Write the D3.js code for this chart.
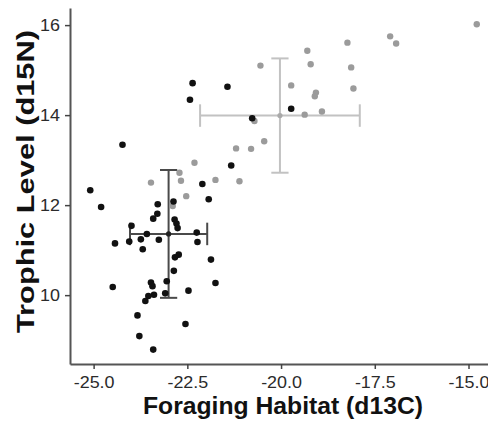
<!DOCTYPE html>
<meta charset="utf-8">
<style>
    body {
        margin: 0;
        background: #fff;
    }

    .tick text {
        font-family: "Liberation Sans", Arial, sans-serif;
        font-size: 16px;
        fill: #2b2b2b;
    }

    .title {
        font-family: "Liberation Sans", Arial, sans-serif;
        font-weight: 700;
        font-size: 24px;
        fill: #111;
    }
</style>
<svg id="f" width="488" height="421"></svg>
<script src="https://cdn.jsdelivr.net/npm/d3@7"></script>
<script>
    // group 1 (black) stable isotope values
    var blackX = [-22.36, -21.43, -22.43, -24.23, -20.77, -19.73, -21.33, -22.10, -25.09, -21.93,
        -24.80, -22.87, -23.29, -23.30, -23.41, -22.84, -22.79, -22.76, -23.99, -23.58,
        -22.25, -23.74, -24.05, -23.26, -24.43, -22.23, -23.69, -22.73, -22.83, -21.87,
        -22.86, -24.49, -23.47, -23.43, -23.05, -21.75, -22.47, -23.39, -23.54, -23.62,
        -23.09, -23.83, -22.55, -23.78, -23.41];
    var blackY = [14.71, 14.63, 14.34, 13.34, 13.93, 14.14, 12.88, 12.47, 12.33, 12.13,
        11.96, 12.08, 12.02, 11.81, 11.70, 11.68, 11.59, 11.49, 11.54, 11.36,
        11.39, 11.24, 11.19, 11.23, 11.15, 11.18, 11.02, 10.90, 10.84, 10.79,
        10.54, 10.18, 10.28, 10.20, 10.31, 10.27, 10.10, 10.01, 9.98, 9.87,
        10.04, 9.55, 9.36, 9.09, 8.79];

    // group 2 (grey)
    var greyX = [-14.78, -17.09, -16.93, -18.23, -19.30, -19.21, -18.13, -20.55, -19.73, -19.07,
        -19.10, -18.07, -19.37, -18.91, -20.71, -20.45, -21.20, -20.80, -22.31, -22.71,
        -22.67, -23.47, -21.75, -21.11, -22.53, -22.89];
    var greyY = [16.02, 15.75, 15.59, 15.61, 15.43, 15.13, 15.06, 15.10, 14.66, 14.50,
        14.42, 14.59, 14.01, 14.08, 13.87, 13.42, 13.26, 13.25, 12.94, 12.72,
        12.54, 12.50, 12.56, 12.53, 12.20, 11.98];

    // group means and spread
    var groups = ["grey", "black"];
    var meanX = [-20.03, -23.0];
    var meanY = [13.99, 11.36];
    var sdX = [2.13, 1.03];
    var sdY = [1.27, 1.42];

    var xTicks = [-25, -22.5, -20, -17.5, -15];
    var yTicks = [10, 12, 14, 16];

    var svg = d3.select("#f");

    var x = d3.scaleLinear().domain([-25.63, -14.16]).range([70, 500]),
        y = d3.scaleLinear().domain([8.47, 16.38]).range([364, 8]);

    var ptColor = { black: "#111", grey: "#9b9b9b" },
        barColor = { black: "#4a4a4a", grey: "#c2c2c2" };

    var capW = 0.23, capH = 0.25; // half cap size in data units

    // axes
    var xAxis = svg.append("g")
        .attr("transform", "translate(0,364)")
        .call(d3.axisBottom(x).tickValues(xTicks).tickSize(5).tickSizeOuter(0));
    xAxis.select(".domain").attr("stroke", "#555").attr("stroke-width", 2);
    xAxis.selectAll(".tick line").attr("stroke", "#444").attr("stroke-width", 1.5);
    xAxis.selectAll(".tick text").attr("dy", null).attr("y", 24)
        .text(function (d) { return d3.format(".1f")(d).replace("−", "-"); })
        .attr("transform", "scale(1.12,1)");

    var yAxis = svg.append("g")
        .attr("transform", "translate(70,0)")
        .call(d3.axisLeft(y).tickValues(yTicks).tickSize(5).tickSizeOuter(0));
    yAxis.select(".domain").attr("stroke", "#555").attr("stroke-width", 2);
    yAxis.selectAll(".tick line").attr("stroke", "#444").attr("stroke-width", 1.5);
    yAxis.selectAll(".tick text").attr("x", -9).attr("dy", "0.35em")
        .attr("transform", "scale(1.12,1)");

    // error bars
    var bars = svg.append("g");
    groups.forEach(function (gname, i) {
        var c = barColor[gname];
        var g = bars.append("g").attr("stroke", c).attr("stroke-width", 2).attr("fill", "none");
        g.append("line")
            .attr("x1", x(meanX[i])).attr("x2", x(meanX[i]))
            .attr("y1", y(meanY[i] - sdY[i])).attr("y2", y(meanY[i] + sdY[i]));
        [meanY[i] - sdY[i], meanY[i] + sdY[i]].forEach(function (v) {
            g.append("line")
                .attr("x1", x(meanX[i] - capW)).attr("x2", x(meanX[i] + capW))
                .attr("y1", y(v)).attr("y2", y(v));
        });
        g.append("line")
            .attr("x1", x(meanX[i] - sdX[i])).attr("x2", x(meanX[i] + sdX[i]))
            .attr("y1", y(meanY[i])).attr("y2", y(meanY[i]));
        [meanX[i] - sdX[i], meanX[i] + sdX[i]].forEach(function (v) {
            g.append("line")
                .attr("x1", x(v)).attr("x2", x(v))
                .attr("y1", y(meanY[i] - capH)).attr("y2", y(meanY[i] + capH));
        });
    });

    // points
    var grey = greyX.map(function (v, i) { return { x: v, y: greyY[i] }; });
    var black = blackX.map(function (v, i) { return { x: v, y: blackY[i] }; });

    svg.append("g").selectAll("circle")
        .data(grey)
        .enter().append("circle")
        .attr("cx", function (d) { return x(d.x); })
        .attr("cy", function (d) { return y(d.y); })
        .attr("r", 3.2)
        .attr("fill", ptColor.grey);

    svg.append("g").selectAll("circle")
        .data(black)
        .enter().append("circle")
        .attr("cx", function (d) { return x(d.x); })
        .attr("cy", function (d) { return y(d.y); })
        .attr("r", 3.3)
        .attr("fill", ptColor.black);

    // mean markers
    svg.append("g").selectAll("circle")
        .data(groups)
        .enter().append("circle")
        .attr("cx", function (d, i) { return x(meanX[i]); })
        .attr("cy", function (d, i) { return y(meanY[i]); })
        .attr("r", 2.6)
        .attr("fill", function (d) { return d === "grey" ? "#aaa" : "#222"; });

    // titles
    svg.append("text")
        .attr("class", "title")
        .attr("x", 283)
        .attr("y", 414)
        .attr("text-anchor", "middle")
        .attr("textLength", 280)
        .attr("lengthAdjust", "spacingAndGlyphs")
        .text("Foraging Habitat (d13C)");

    svg.append("text")
        .attr("class", "title")
        .attr("transform", "translate(34,181.5) rotate(-90)")
        .attr("text-anchor", "middle")
        .attr("textLength", 303)
        .attr("lengthAdjust", "spacingAndGlyphs")
        .text("Trophic Level (d15N)");
</script>
